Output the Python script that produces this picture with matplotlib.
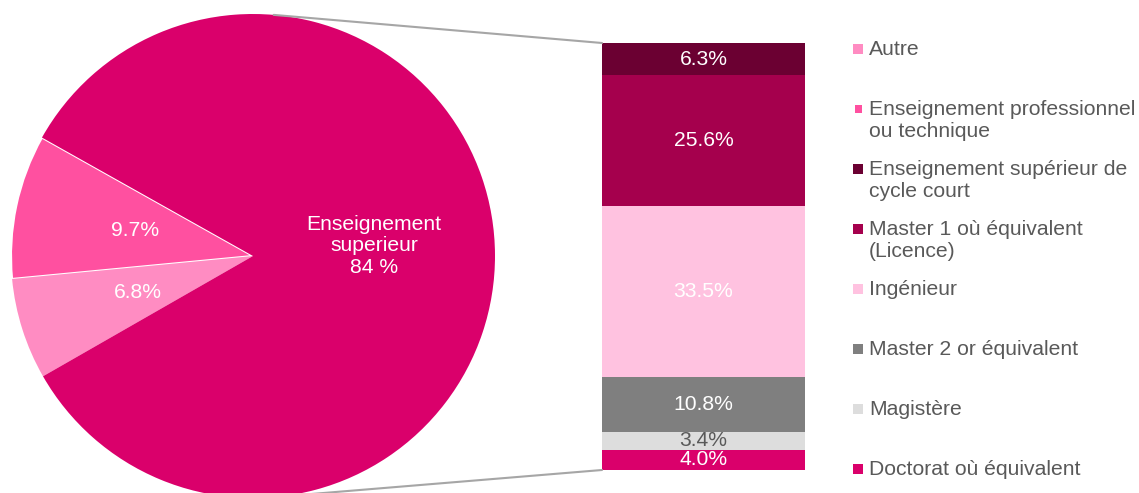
import numpy as np
import matplotlib
matplotlib.use("Agg")
import matplotlib.pyplot as plt
from matplotlib.patches import Rectangle, ConnectionPatch

plt.rcParams['font.family'] = ['Liberation Sans', 'DejaVu Sans']

# pie: main categories
pie_labels = ['Enseignement professionnel ou technique', 'Autre', 'Enseignement superieur']
pie_values = [9.7, 6.8, 84]
pie_colors = ['#FF50A0', '#FF8CC2', '#DA006B']

# bar: breakdown of "Enseignement superieur", bottom to top
bar_labels = ['Doctorat où équivalent', 'Magistère', 'Master 2 or équivalent', 'Ingénieur',
              'Master 1 où équivalent\n(Licence)', 'Enseignement supérieur de\ncycle court']
bar_values = [4.0, 3.4, 10.8, 33.5, 25.6, 6.3]
bar_colors = ['#DA006B', '#DDDDDD', '#7F7F7F', '#FFC2E0', '#A5004D', '#6B0032']
bar_text_colors = ['white', '#595959', 'white', 'white', 'white', 'white']

# legend, top to bottom
legend_labels = ['Autre', 'Enseignement professionnel\nou technique',
                 'Enseignement supérieur de\ncycle court', 'Master 1 où équivalent\n(Licence)',
                 'Ingénieur', 'Master 2 or équivalent', 'Magistère', 'Doctorat où équivalent']
legend_colors = ['#FF8CC2', '#FF50A0', '#6B0032', '#A5004D', '#FFC2E0', '#7F7F7F', '#DDDDDD', '#DA006B']

W, H = 1139, 493
fig = plt.figure(figsize=(W / 100, H / 100), dpi=100)
fs = 15.2

# ---- pie ----
cx, cy, r = 253, 256, 242
ax_pie = fig.add_axes([(cx - r) / W, (H - cy - r) / H, 2 * r / W, 2 * r / H])
wedges, _ = ax_pie.pie(pie_values, colors=pie_colors, startangle=150.7, counterclock=True,
                       radius=1, wedgeprops=dict(linewidth=0))
wedges[0].set_edgecolor('white')
wedges[0].set_linewidth(1.5)
ax_pie.set_xlim(-1, 1)
ax_pie.set_ylim(-1, 1)
ax_pie.set_aspect('auto')
ax_pie.axis('off')

for w, lab, v in zip(wedges, pie_labels, pie_values):
    ang = np.deg2rad((w.theta1 + w.theta2) / 2)
    x, y = 0.5 * np.cos(ang), 0.5 * np.sin(ang)
    if lab == 'Enseignement superieur':
        txt = 'Enseignement\nsuperieur\n%d %%' % v
        y += 0.04
    else:
        txt = '%.1f%%' % v
    ax_pie.text(x, y, txt, ha='center', va='center', color='white', fontsize=fs,
                linespacing=1.15)

# ---- stacked bar ----
total = sum(bar_values)
ax_bar = fig.add_axes([602 / W, 23 / H, 203 / W, 427 / H])
bottom = 0
for v, c, tc in zip(bar_values, bar_colors, bar_text_colors):
    ax_bar.bar(0, v, width=1, bottom=bottom, color=c, linewidth=0)
    ax_bar.text(0, bottom + v / 2, '%.1f%%' % v, ha='center', va='center', color=tc, fontsize=fs)
    bottom += v
ax_bar.set_xlim(-0.5, 0.5)
ax_bar.set_ylim(0, total)
ax_bar.axis('off')

# connector lines tangent to the pie from the bar corners
to_pie = ax_bar.transData + ax_pie.transData.inverted()
for yb, side in [(total, 1), (0, -1)]:
    px, py = to_pie.transform((-0.5, yb))
    d = np.hypot(px, py)
    base = np.arctan2(py, px)
    cands = [base + np.arccos(1 / d), base - np.arccos(1 / d)]
    t = max(cands, key=lambda a: side * np.sin(a))
    con = ConnectionPatch(xyA=(np.cos(t), np.sin(t)), coordsA=ax_pie.transData,
                          xyB=(-0.5, yb), coordsB=ax_bar.transData,
                          color='#A6A6A6', linewidth=1.5)
    fig.add_artist(con)

# ---- legend ----
for i, (lab, c) in enumerate(zip(legend_labels, legend_colors)):
    yc = 49 + 60 * i
    s = 7 if i == 1 else 10
    fig.add_artist(Rectangle(((858 - s / 2) / W, 1 - (yc + s / 2) / H), s / W, s / H,
                             transform=fig.transFigure, color=c, linewidth=0))
    fig.text(869 / W, 1 - (yc - 9) / H, lab, ha='left', va='top', color='#595959',
             fontsize=fs, linespacing=1.2)

fig.savefig('out.png', dpi=100)
